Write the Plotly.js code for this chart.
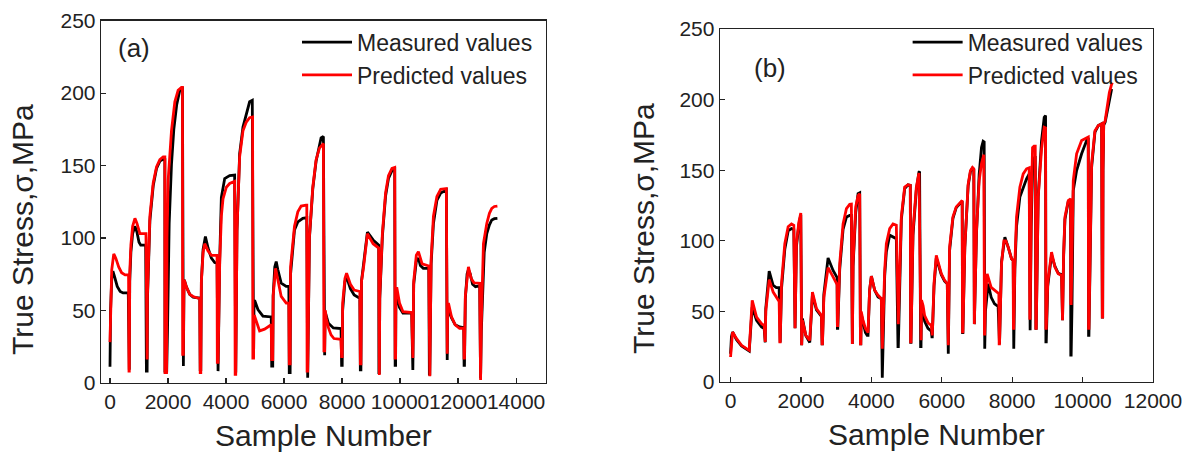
<!DOCTYPE html>
<html>
<head>
<meta charset="utf-8">
<script src="https://cdn.plot.ly/plotly-3.0.1.min.js"></script>
<style>html,body{margin:0;padding:0;background:#fff;}#chart{width:1188px;height:458px;}</style>
</head>
<body>
<div id="chart"></div>
<script>
// Panel (a): [sample number, true stress MPa]
const measuredA = [
[0,11],[5,27],[20,50],[60,72],[100,77],[160,73],[250,66.5],[350,63],[450,62],[630,62],
[650,9],
[665,9],[680,70],[720,90],[780,103],[860,108],[930,104],[1000,97],[1060,95],[1230,95],
[1255,8],
[1280,8],[1295,60],[1320,80],[1375,112],[1490,136],[1604,148],[1719,153],[1834,154.6],[1891,155],
[1895,8],
[1955,8],[1983,37],[2040,110],[2120,151],[2200,175],[2300,192],[2407,202],[2498,203],
[2505,11.5],
[2530,11.5],[2550,65],[2560,71],[2636,66],[2750,61],[2865,59],[3094,58.5],
[3110,9],
[3130,9],[3150,70],[3209,92],[3289,101],[3380,93],[3495,86],[3610,83],[3690,82.6],
[3700,8],
[3725,8],[3782,85],[3839,128],[3954,141],[4126,143],[4297,143.4],
[4315,7],
[4335,7],[4378,105],[4469,158],[4584,176.5],[4699,185.8],[4813,194],[4905,195],
[4925,18],
[4950,18],[4965,55],[4985,57],[5100,50.5],[5272,46],[5558,45.4],
[5575,11.5],
[5610,11.5],[5625,60],[5680,80],[5730,83.7],[5787,78],[5902,68.8],[6074,66.5],[6165,66.5],
[6180,7],
[6210,7],[6225,75],[6303,95],[6360,105.5],[6475,111],[6647,113.5],[6784,114],
[6795,3.5],
[6815,3.5],[6876,100],[6991,134],[7105,153],[7220,164],[7277,169],[7357,170],
[7375,19],
[7400,19],[7415,49],[7472,45],[7530,41],[7700,37.8],[7965,37.4],
[7985,12],
[8005,12],[8020,50],[8100,70],[8156,73],[8287,65],[8417,60.6],[8613,58.3],
[8630,8.8],
[8650,8.8],[8670,70],[8743,82],[8874,104],[9070,98.6],[9265,95],
[9270,7],
[9285,7],[9300,58],[9390,101],[9500,129],[9600,141],[9720,146.5],[9815,147.5],
[9830,12],
[9845,12],[9855,55],[9900,58],[9980,52],[10100,48],[10400,48],
[10425,8.8],
[10440,8.8],[10470,68],[10560,84],[10632,86],[10700,81],[10800,79],[10990,79],
[11010,6],
[11025,6],[11070,82],[11150,110],[11270,126],[11400,131],[11595,133],
[11610,15.7],
[11625,15.7],[11640,48],[11667,50],[11770,45],[11900,40],[12050,38.5],[12195,38],
[12207,12],
[12220,12],[12250,58],[12310,75],[12356,78],[12414,75.5],[12500,68],[12600,66.3],[12745,67],
[12760,3],
[12775,3],[12800,35],[12850,70],[12900,90],[12989,103],[13080,109],[13161,112.4],[13250,113.3],[13355,113.5]
];
const predictedA = [
[0,28],[20,55],[60,78],[130,89],[200,86],[300,80],[400,76],[520,74.5],[640,74.5],
[655,8],
[665,8],[680,75],[720,95],[780,108],[860,113.5],[930,110],[1030,103],[1240,103],
[1255,16],
[1280,16],[1290,60],[1318,82],[1375,115],[1490,138],[1604,149],[1719,154],[1834,156],[1891,156],
[1895,7],
[1950,7],[1965,100],[2005,140],[2120,174],[2235,194],[2349,202],[2464,204],[2498,204],
[2505,19.5],
[2530,19.5],[2545,60],[2560,71],[2636,66],[2750,61],[2865,59.5],[3094,58],
[3110,7],
[3130,7],[3150,70],[3209,90],[3266,96],[3380,91],[3495,88],[3690,88],
[3700,14],
[3725,14],[3782,82.6],[3839,115],[3896,127],[4011,135],[4126,137.6],[4263,138.8],[4297,139],
[4315,5.7],
[4335,5.7],[4378,105.5],[4469,156],[4584,174],[4699,180],[4813,183],[4916,183.5],
[4925,17],
[4950,17],[4960,46],[4985,46],[5157,35.8],[5329,37],[5558,40],
[5575,16],
[5610,16],[5625,60],[5707,79],[5787,70],[5902,59.6],[6074,55],[6165,55],
[6180,13],
[6210,13],[6225,80],[6303,96],[6360,108],[6475,118],[6590,122],[6761,122.7],[6784,122.7],
[6795,8],
[6815,8],[6876,101],[6991,135],[7105,154],[7220,162],[7334,164.7],[7357,165],
[7375,22],
[7400,22],[7420,50],[7460,44],[7530,38],[7620,33],[7720,30.5],[7960,30],
[7985,18],
[8005,18],[8020,55],[8100,72],[8156,75.6],[8287,68],[8417,64],[8613,63],
[8630,13],
[8650,13],[8670,70],[8743,80],[8874,103],[9070,96],[9265,93],
[9270,5.3],
[9285,5.3],[9300,60],[9390,103],[9500,131],[9600,143],[9720,148],[9815,148.6],
[9830,17],
[9845,17],[9855,60],[9885,66],[9980,55],[10100,49],[10400,48.4],
[10425,17],
[10440,17],[10470,70],[10560,88],[10632,90.5],[10760,82],[10990,80.6],
[11010,4.4],
[11025,4.4],[11070,85],[11150,115],[11270,128.6],[11400,133.6],[11595,134],
[11610,20],
[11625,20],[11640,52],[11667,55],[11770,45.6],[11900,40],[12050,37.6],[12195,37.6],
[12207,17],
[12220,17],[12250,60],[12356,80],[12450,72],[12550,69],[12745,68.7],
[12760,1.9],
[12775,1.9],[12800,40],[12840,70],[12874,96],[12989,110],[13080,117],[13161,120.4],[13250,121.7],[13355,122]
];
// Panel (b)
const measuredB = [
[0,20],[25,32],[57,35.4],[170,30],[312,25.5],[454,23],[530,22],
[560,33],[615,53],[738,43.7],[879,39],[955,37.8],
[974,28],
[985,28],[1000,52],[1097,78.6],[1210,68.5],[1300,66.8],[1380,66.8],
[1400,28],
[1410,28],[1447,66],[1541,94],[1636,107],[1730,108.6],[1797,108],
[1825,38],
[1832,38],[1872,96],[1938,111],[1995,118.5],
[2014,26],
[2020,26],[2042,45],[2137,33],[2250,28],
[2288,48],[2326,62],[2440,51],[2534,47.5],[2581,46.5],
[2600,27],
[2610,27],[2650,62],[2770,87.8],[2912,79],[3007,74.4],[3026,74],
[3035,38],
[3045,38],[3101,80],[3196,108],[3291,116.8],[3385,118],[3432,118],
[3451,27],
[3460,27],[3480,82],[3555,120],[3622,133.4],[3669,134],
[3690,27],
[3700,27],[3712,48],[3760,42],[3830,35],[3880,33],
[3905,33],[3950,65],[4000,75],[4094,65],[4189,60.2],[4283,59],
[4300,3],
[4310,3],[4378,75],[4425,92],[4520,104],[4615,103],[4709,101.5],
[4756,25],
[4765,25],[4851,115],[4946,137],[5040,139.7],[5106,139.3],
[5116,28],
[5125,28],[5182,104],[5277,136],[5352,148.7],[5370,149],
[5399,25],
[5410,25],[5425,55],[5470,50],[5513,43],[5607,38],[5702,36],
[5720,32],
[5730,32],[5780,68],[5844,88],[5986,76],[6080,71.5],[6156,69.6],
[6175,20],
[6185,20],[6222,93],[6317,116],[6411,123.5],[6506,126.5],[6580,128],
[6590,35],
[6600,35],[6654,95],[6749,139],[6815,149],[6872,151.5],[6910,150.5],
[6918,41],
[6925,41],[6986,105],[7062,147],[7128,166],[7175,170.5],[7204,170],
[7213,23.6],
[7220,23.6],[7240,50],[7318,69.6],[7403,60],[7498,55.4],[7600,53.5],
[7630,27],
[7640,27],[7697,85],[7763,100],[7792,102.6],[7886,95.5],[7981,87.3],[8028,86],
[8035,23.6],
[8045,23.6],[8076,80],[8123,110],[8218,131],[8313,138],[8408,143.9],[8483,147.4],
[8500,36.7],
[8510,36.7],[8540,110],[8578,150],[8620,158],[8655,160],
[8673,38],
[8683,38],[8739,131],[8834,171],[8910,187.5],[8948,188.7],
[8958,28.4],
[8968,28.4],[9010,68],[9118,90],[9213,82],[9308,77],[9403,76],
[9422,43.7],
[9430,43.7],[9460,88],[9498,115],[9593,128],[9659,129],
[9665,19],
[9675,19],[9700,55],[9735,135.6],[9830,149.8],[9972,161.6],[10114,171],[10161,173],
[10170,33],
[10180,33],[10256,152],[10351,177],[10446,181.6],[10540,182.8],
[10560,46],
[10570,46],[10580,150],[10600,182],[10640,184],[10700,192],[10760,201],[10825,207.5]
];
const predictedB = [
[0,17.7],[25,30],[57,35.4],[170,30.7],[312,26],[454,23.6],[530,22.4],
[560,35],[615,57.8],[738,46],[879,41.3],[955,40],
[974,28.4],
[985,28.4],[1000,50],[1097,72.5],[1210,63.7],[1352,57.8],[1380,57],
[1400,28.4],
[1410,28.4],[1447,69.6],[1541,98],[1636,110],[1730,112],[1797,111],
[1825,38],
[1832,38],[1872,98],[1938,113],[1995,119.7],
[2014,26],
[2020,26],[2042,43.7],[2137,33],[2250,29.5],
[2288,50],[2326,63.7],[2440,52],[2534,48.4],[2581,47.2],
[2600,27],
[2610,27],[2650,60],[2770,81],[2912,74.4],[3007,69.6],[3026,69],
[3035,40],
[3045,40],[3101,84],[3196,112],[3291,122.8],[3385,125.8],[3432,126],
[3451,27],
[3460,27],[3480,84],[3555,124],[3622,132],[3669,133.4],
[3690,27],
[3700,27],[3712,50],[3760,44],[3830,38],[3880,36],
[3905,35],[3950,65],[4000,75],[4094,65],[4189,61.4],[4283,59],
[4300,23.6],
[4310,23.6],[4378,79],[4425,98],[4520,108.6],[4615,112],[4709,111],
[4756,41],
[4765,41],[4851,117],[4946,138],[5040,139.7],[5106,139.3],
[5116,28.4],
[5125,28.4],[5182,107],[5277,138],[5352,148],
[5399,29.6],
[5410,29.6],[5425,58],[5470,54],[5513,47],[5607,42],[5702,40],
[5720,33],
[5730,33],[5780,70],[5844,89.7],[5986,76.7],[6080,72],[6156,69.6],
[6175,26],
[6185,26],[6222,95.6],[6317,117],[6411,124],[6506,127],[6580,128.5],
[6590,35.5],
[6600,35.5],[6654,95.5],[6749,140],[6815,149.8],[6872,152],[6910,151],
[6918,41],
[6925,41],[6986,107],[7062,142.7],[7128,154.5],[7175,159],[7194,161],
[7213,34],
[7220,34],[7240,60],[7289,76.6],[7403,67],[7545,63.7],[7621,62.5],
[7630,27],
[7640,27],[7697,83.7],[7763,100],[7820,100],[7886,95.5],[7981,87.3],[8028,86],
[8035,38],
[8045,38],[8076,83.7],[8123,116.7],[8218,138],[8313,147.4],[8408,151],[8483,151.7],
[8500,45],
[8510,45],[8540,120],[8578,166],[8620,167],[8655,167],
[8673,38],
[8683,38],[8739,131],[8834,165],[8910,180.4],[8948,180],
[8958,38],
[8968,38],[9010,70],[9118,92],[9213,81.4],[9308,76.7],[9403,75.5],
[9422,43.7],
[9430,43.7],[9460,90],[9498,116.7],[9593,128.5],[9659,129.7],
[9665,55.6],
[9675,55.6],[9735,142.7],[9830,161.6],[9972,171],[10114,173.3],[10161,173.5],
[10170,38],
[10180,38],[10256,154.5],[10351,178],[10446,181.6],[10540,182.8],
[10560,46],
[10570,46],[10580,150],[10600,183],[10640,185],[10700,195],[10760,205],[10825,211],[10850,212]
];
const seriesNames = ['Measured values', 'Predicted values'];
const panelLabels = ['(a)', '(b)'];
const xTitle = 'Sample Number';
const yTitle = 'True Stress,σ,MPa';

const FONT = 'Liberation Sans, Arial, sans-serif';
const BLACK = '#000000', RED = '#ff0000';
function tr(pts, name, color, xa, ya, lg) {
  return {type:'scatter', mode:'lines', name:name, x:pts.map(p=>p[0]), y:pts.map(p=>p[1]),
    xaxis:xa, yaxis:ya, legend:lg, line:{color:color, width:2.8}, hoverinfo:'skip'};
}
const data = [
  tr(measuredA, seriesNames[0], BLACK, 'x', 'y', 'legend'),
  tr(predictedA, seriesNames[1], RED, 'x', 'y', 'legend'),
  tr(measuredB, seriesNames[0], BLACK, 'x2', 'y2', 'legend2'),
  tr(predictedB, seriesNames[1], RED, 'x2', 'y2', 'legend2')
];
function ax(extra) {
  return Object.assign({
    showline:true, mirror:true, linecolor:'#222', linewidth:1.3,
    ticks:'inside', ticklen:5, tickwidth:1.2, tickcolor:'#222',
    showgrid:false, zeroline:false, automargin:false, tickformat:'d', tickangle:0,
    tickfont:{family:FONT, size:21, color:'#222'}
  }, extra);
}
const titleFont = {family:FONT, size:30, color:'#222'};
const layout = {
  width:1188, height:458, margin:{l:0,r:0,t:0,b:0},
  paper_bgcolor:'#fff', plot_bgcolor:'#fff', showlegend:true,
  font:{family:FONT, color:'#222'},
  xaxis: ax({domain:[0.08502,0.45934], range:[-310,15020], tick0:0, dtick:2000, anchor:'y',
    title:{text:xTitle, font:titleFont, standoff:12}}),
  yaxis: ax({domain:[0.16441,0.95480], range:[0,250], tick0:0, dtick:50, anchor:'x'}),
  xaxis2: ax({domain:[0.60606,0.97054], range:[-300,12000], tick0:0, dtick:2000, anchor:'y2',
    title:{text:xTitle, font:titleFont, standoff:12}}),
  yaxis2: ax({domain:[0.16594,0.93668], range:[0,250], tick0:0, dtick:50, anchor:'x2'}),
  legend: {x:0.250, y:0.955, xanchor:'left', yanchor:'top', bgcolor:'rgba(0,0,0,0)',
    font:{family:FONT, size:23, color:'#222'}, itemwidth:50, tracegroupgap:0},
  legend2: {x:0.764, y:0.955, xanchor:'left', yanchor:'top', bgcolor:'rgba(0,0,0,0)',
    font:{family:FONT, size:23, color:'#222'}, itemwidth:50, tracegroupgap:0},
  annotations: [
    {text:panelLabels[0], xref:'paper', yref:'paper', x:134/1188, y:1-48/458, showarrow:false,
     xanchor:'center', yanchor:'middle', font:{family:FONT, size:26, color:'#222'}},
    {text:panelLabels[1], xref:'paper', yref:'paper', x:770/1188, y:1-68/458, showarrow:false,
     xanchor:'center', yanchor:'middle', font:{family:FONT, size:26, color:'#222'}},
    {text:yTitle, xref:'paper', yref:'paper', x:23/1188, y:1-230/458, textangle:-90, showarrow:false,
     xanchor:'center', yanchor:'middle', font:titleFont},
    {text:yTitle, xref:'paper', yref:'paper', x:643/1188, y:1-228/458, textangle:-90, showarrow:false,
     xanchor:'center', yanchor:'middle', font:titleFont}
  ]
};
Plotly.newPlot('chart', data, layout, {displayModeBar:false, staticPlot:true});
</script>
</body>
</html>
